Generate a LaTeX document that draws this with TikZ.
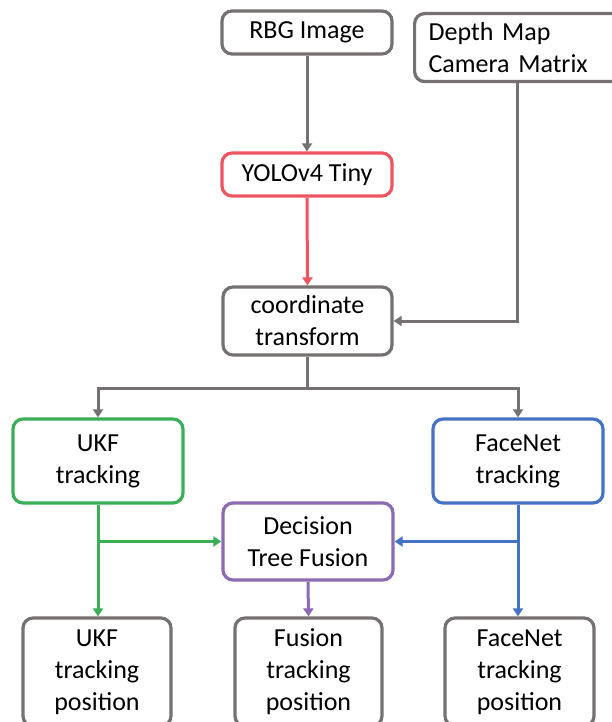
\documentclass[tikz,border=0pt]{standalone}
\usepackage{fontspec}
\setmainfont{Carlito}
\usetikzlibrary{arrows.meta,calc}

\definecolor{boxgray}{HTML}{767171}
\definecolor{yolored}{HTML}{EF5560}
\definecolor{ukfgreen}{HTML}{3AAF57}
\definecolor{faceblue}{HTML}{4472C4}
\definecolor{fusepurple}{HTML}{8C6BB4}

\tikzset{
  box/.style={draw=#1, line width=3.2bp, rounded corners=10bp, fill=white,
    inner sep=0pt, align=center,
    font=\fontsize{26bp}{32bp}\selectfont},
  link/.style={draw=#1, line width=3bp,
    -{Triangle[width=10bp,length=8bp]}}
}

\begin{document}
\begin{tikzpicture}[x=1bp,y=-1bp]
  \clip (0,0) rectangle (612,722);
  \fill[white] (0,0) rectangle (612,722);

  % input and detection
  \node[box=boxgray, minimum width=170bp, minimum height=43bp] (rbg) at (307,32.5) {RBG Image};
  \node[box=boxgray, anchor=north west, minimum height=68bp, text width=199bp,
        inner xsep=14bp, align=left] (depth) at (413,12) {Depth Map\\Camera Matrix};
  \node[box=yolored, minimum width=170bp, minimum height=43bp] (yolo) at (307,174.5) {YOLOv4 Tiny};
  \node[box=boxgray, minimum width=169bp, minimum height=68bp] (coord) at (307.5,321) {coordinate\\transform};

  % trackers and fusion
  \node[box=ukfgreen, minimum width=170bp, minimum height=84bp] (ukf) at (98,461) {UKF\\tracking};
  \node[box=faceblue, minimum width=170bp, minimum height=84bp] (face) at (518,461) {FaceNet\\tracking};
  \node[box=fusepurple, minimum width=170bp, minimum height=77bp] (dec) at (308,541.5) {Decision\\Tree Fusion};

  % outputs
  \node[box=boxgray, minimum width=148bp, minimum height=108bp] (ukfp) at (97,672) {UKF\\tracking\\position};
  \node[box=boxgray, minimum width=147bp, minimum height=108bp] (fusp) at (308.5,672) {Fusion\\tracking\\position};
  \node[box=boxgray, minimum width=149bp, minimum height=108bp] (facep) at (519.5,672) {FaceNet\\tracking\\position};

  % connectors
  \coordinate (dtap) at ($(depth.south west)+(104,0)$);
  \draw[link=boxgray] (rbg.south) -- (yolo.north);
  \draw[link=yolored] (yolo.south) -- (coord.north);
  \draw[link=boxgray] (dtap) |- (coord.east);
  \draw[link=boxgray] (coord.south) -- ++(0,32) -| (ukf.north);
  \draw[link=boxgray] (coord.south) -- ++(0,32) -| (face.north);

  \draw[link=ukfgreen] (ukf.south) -- (ukf.south |- ukfp.north);
  \draw[link=ukfgreen] (ukf.south |- dec.west) -- (dec.west);
  \draw[link=faceblue] (face.south) -- (face.south |- facep.north);
  \draw[link=faceblue] (face.south |- dec.east) -- (dec.east);
  \draw[link=fusepurple] (dec.south) -- (fusp.north);
\end{tikzpicture}
\end{document}
